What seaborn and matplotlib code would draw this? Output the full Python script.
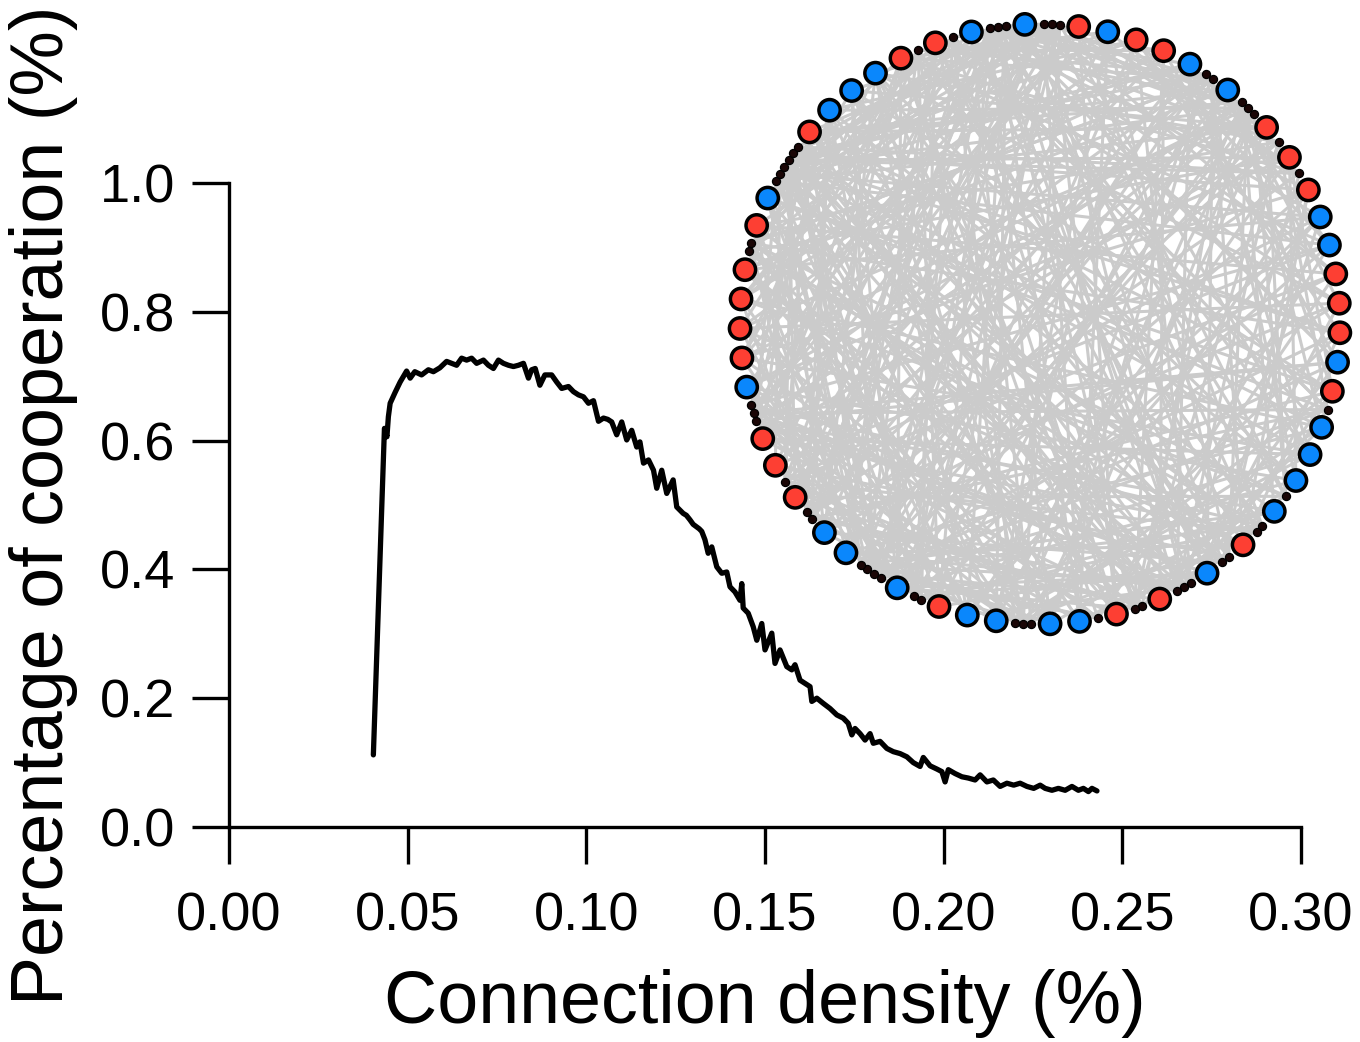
import numpy as np
import pandas as pd
import seaborn as sns
import matplotlib
matplotlib.use("Agg")
import matplotlib.pyplot as plt
from matplotlib.collections import LineCollection

# cooperation curve
density = [
    0.0404, 0.0435, 0.0442, 0.0446, 0.0451, 0.0465, 0.0479, 0.0497, 0.0507, 0.0520,
    0.0539, 0.0558, 0.0572, 0.0590, 0.0609, 0.0623, 0.0637, 0.0651, 0.0665, 0.0679,
    0.0693, 0.0712, 0.0726, 0.0740, 0.0754, 0.0768, 0.0782, 0.0796, 0.0810, 0.0824,
    0.0838, 0.0847, 0.0857, 0.0870, 0.0884, 0.0903, 0.0917, 0.0931, 0.0950, 0.0964,
    0.0978, 0.0992, 0.1006, 0.1020, 0.1034, 0.1048, 0.1060, 0.1071, 0.1085, 0.1099,
    0.1113, 0.1127, 0.1141, 0.1150, 0.1160, 0.1174, 0.1188, 0.1197, 0.1211, 0.1225,
    0.1243, 0.1253, 0.1262, 0.1271, 0.1280, 0.1290, 0.1299, 0.1309, 0.1316, 0.1323,
    0.1332, 0.1341, 0.1351, 0.1365, 0.1379, 0.1393, 0.1402, 0.1416, 0.1430, 0.1435,
    0.1439, 0.1453, 0.1467, 0.1477, 0.1491, 0.1500, 0.1519, 0.1528, 0.1542, 0.1561,
    0.1575, 0.1584, 0.1598, 0.1612, 0.1626, 0.1631, 0.1645, 0.1663, 0.1682, 0.1701,
    0.1719, 0.1733, 0.1743, 0.1752, 0.1766, 0.1780, 0.1794, 0.1803, 0.1822, 0.1841,
    0.1859, 0.1878, 0.1897, 0.1915, 0.1934, 0.1943, 0.1962, 0.1981, 0.1995, 0.2004,
    0.2013, 0.2032, 0.2051, 0.2069, 0.2088, 0.2102, 0.2121, 0.2139, 0.2158, 0.2177,
    0.2196, 0.2214, 0.2233, 0.2252, 0.2270, 0.2284, 0.2303, 0.2321, 0.2340, 0.2359,
    0.2377, 0.2391, 0.2405, 0.2415, 0.2429,
]
cooperation = [
    0.112, 0.619, 0.606, 0.637, 0.658, 0.675, 0.691, 0.708, 0.697, 0.707,
    0.702, 0.710, 0.707, 0.713, 0.723, 0.720, 0.717, 0.728, 0.725, 0.728,
    0.720, 0.725, 0.717, 0.712, 0.725, 0.720, 0.717, 0.715, 0.717, 0.720,
    0.697, 0.710, 0.712, 0.686, 0.702, 0.702, 0.691, 0.681, 0.684, 0.676,
    0.671, 0.668, 0.658, 0.662, 0.630, 0.635, 0.633, 0.629, 0.609, 0.629,
    0.601, 0.616, 0.590, 0.598, 0.565, 0.570, 0.554, 0.526, 0.554, 0.518,
    0.539, 0.497, 0.492, 0.487, 0.484, 0.477, 0.470, 0.466, 0.463, 0.459,
    0.446, 0.425, 0.435, 0.404, 0.394, 0.396, 0.373, 0.365, 0.352, 0.378,
    0.340, 0.332, 0.311, 0.290, 0.316, 0.275, 0.301, 0.254, 0.275, 0.249,
    0.244, 0.252, 0.228, 0.223, 0.218, 0.195, 0.200, 0.192, 0.184, 0.174,
    0.169, 0.161, 0.143, 0.153, 0.145, 0.135, 0.145, 0.130, 0.133, 0.122,
    0.117, 0.114, 0.109, 0.100, 0.094, 0.108, 0.095, 0.090, 0.086, 0.070,
    0.089, 0.083, 0.078, 0.076, 0.073, 0.081, 0.070, 0.073, 0.063, 0.068,
    0.065, 0.068, 0.063, 0.060, 0.065, 0.060, 0.057, 0.060, 0.057, 0.063,
    0.057, 0.060, 0.055, 0.060, 0.056,
]

x_ticks = [0.00, 0.05, 0.10, 0.15, 0.20, 0.25, 0.30]
y_ticks = [0.0, 0.2, 0.4, 0.6, 0.8, 1.0]

# network nodes clockwise from the top:
# b = cooperator (blue), r = defector (red), . = small dark node
node_states = "b...rbrrb..b...r.r.rbbrrrbr.bbb.b..r..b...r..r.bb...bbr..b....bb..r.rr...brrrr..rb......rbbbr.r.b..."

# links as "node: partners"
links = """
0: 37 58 81 14
1: 22 64 90 47
2: 45 71 13 86
3: 56 88 29 67
4: 61 33 95 18
5: 47 76 18 52
6: 52 84 39 21
7: 68 25 93 44
8: 41 77 59 96
9: 30 66 86 51
10: 54 79 35 92
11: 62 97 43 23
12: 70 28 51 88
13: 89 57 36 74
14: 48 73 99 31
15: 60 82 31 97
16: 44 91 69 27
17: 53 78 26 85
18: 65 40 87 3
19: 50 74 96 35
20: 67 38 83 56
21: 55 92 72 9
22: 46 80 63 98
23: 58 94 75 39
24: 49 85 61 6
25: 71 42 98 59
26: 64 88 50 11
27: 59 81 40 95
28: 76 95 62 43
29: 52 69 84 8
30: 73 57 91 17
31: 66 48 79 2
32: 87 55 70 12
33: 60 78 93 47
34: 82 51 67 0
35: 75 96 62 24
36: 68 90 54 5
37: 85 63 79 19
38: 71 94 56 10
39: 80 61 97 26
40: 72 89 53 1
41: 86 64 99 16
42: 77 59 83 7
43: 70 91 65 30
44: 78 57 95 12
45: 88 67 81 4
46: 74 92 60 21
47: 83 69 98 36
48: 90 62 77 9
49: 73 96 58 15
50: 84 67 93 3
51: 79 95 68 28
52: 87 63 99 14
53: 76 91 82 20
54: 85 70 97 2
55: 81 94 66 33
56: 89 73 98 11
57: 92 80 6 38
58: 86 97 14 29
59: 90 75 3 46
60: 94 83 19 8
61: 88 78 9 32
62: 93 81 5 40
63: 91 84 16 1
64: 96 79 8 27
65: 89 99 23 13
66: 92 85 1 44
67: 95 88 12 22
68: 97 83 21 10
69: 93 87 4 34
70: 12 38 99 25
71: 4 27 52 89
72: 9 33 88 50
73: 17 41 60 0
74: 2 29 57 91
75: 14 46 93 6
76: 7 31 63 98
77: 20 44 90 11
78: 1 35 58 94
79: 10 49 96 24
80: 16 40 65 3
81: 3 26 53 95
82: 21 47 70 8
83: 5 34 61 97
84: 13 39 92 0
85: 8 28 55 18
86: 19 43 67 2
87: 0 24 59 42
88: 11 37 72 15
89: 6 30 64 48
90: 15 42 57 26
91: 2 23 50 37
92: 18 45 69 5
93: 9 33 74 54
94: 12 36 62 45
95: 4 27 56 76
96: 16 38 71 1
97: 7 29 48 64
98: 20 44 66 31
99: 1 25 53 10
"""

RED = "#fd3f33"
BLUE = "#0a87fc"

sns.set_style("ticks", {"axes.edgecolor": "black", "text.color": "black",
                        "axes.labelcolor": "black", "xtick.color": "black",
                        "ytick.color": "black"})
plt.rcParams["font.family"] = ["Liberation Sans", "DejaVu Sans"]

fig = plt.figure(figsize=(13.6, 10.42), dpi=100)
ax = fig.add_axes([0.16838, 0.20633, 0.78824, 0.61804])

sns.lineplot(x=density, y=cooperation, color="black", linewidth=3.8,
             errorbar=None, ax=ax)

ax.set_xlim(0, 0.30)
ax.set_ylim(0, 1.0)
ax.set_xticks(x_ticks)
ax.set_yticks(y_ticks)
ax.set_xticklabels([f"{t:.2f}" for t in x_ticks])
ax.set_yticklabels([f"{t:.1f}" for t in y_ticks])
sns.despine(ax=ax)
for side in ["left", "bottom"]:
    ax.spines[side].set_linewidth(2.4)
    ax.spines[side].set_color("black")
ax.tick_params(length=26.5, width=2.4, labelsize=39, direction="out",
               color="black", labelcolor="black")
ax.tick_params(axis="x", pad=20)
ax.tick_params(axis="y", pad=12)
ax.set_xlabel("Connection density (%)", fontsize=53, labelpad=20, color="black")
ax.set_ylabel("Percentage of cooperation (%)", fontsize=53, labelpad=16, color="black")

# inset network in a circular layout (arc gap follows node size)
big = np.array([s != "." for s in node_states])
half = np.where(big, 14.0, 3.5)
gaps = half + np.roll(half, -1) + 1.0
arc = np.concatenate([[0.0], np.cumsum(gaps)[:-1]])
theta = np.deg2rad(92.9) - 2 * np.pi * arc / gaps.sum()
nodes = pd.DataFrame({"x": np.cos(theta), "y": np.sin(theta),
                      "state": list(node_states)})

pairs = []
for row in links.strip().splitlines():
    i, rest = row.split(":")
    for j in rest.split():
        pairs.append((int(i), int(j)))

net = fig.add_axes([710 / 1360, 1 - 654 / 1042, 660 / 1360, 660 / 1042])
segs = [[(nodes.x[i], nodes.y[i]), (nodes.x[j], nodes.y[j])] for i, j in pairs]
net.add_collection(LineCollection(segs, colors="#cbcbcb", linewidths=2.2, zorder=1))

sns.scatterplot(data=nodes[nodes.state == "."], x="x", y="y", color="#1a0606",
                s=34, edgecolor="black", linewidth=0.9, zorder=2, ax=net)
sns.scatterplot(data=nodes[nodes.state != "."], x="x", y="y", hue="state",
                palette={"b": BLUE, "r": RED}, s=235, edgecolor="black",
                linewidth=2.5, legend=False, zorder=3, ax=net)
net.set_xlim(-1.1, 1.1)
net.set_ylim(-1.1, 1.1)
net.axis("off")

fig.savefig("out.png", dpi=100)
